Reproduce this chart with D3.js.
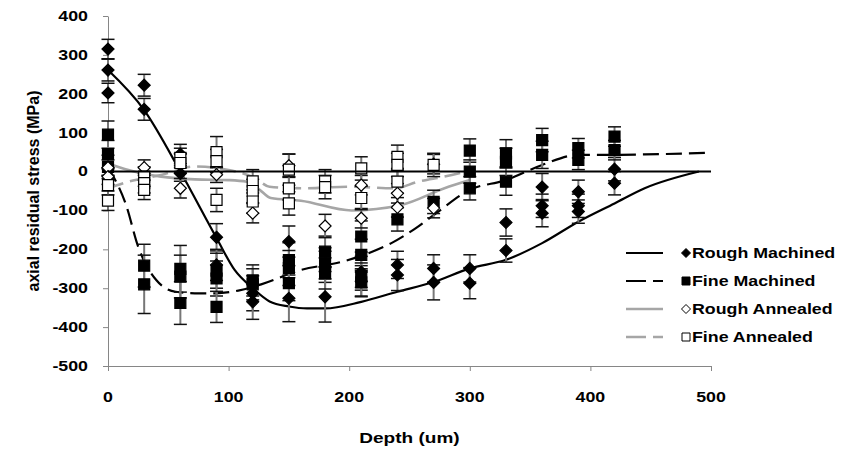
<!DOCTYPE html>
<html>
<head>
<meta charset="utf-8">
<script src="https://cdn.jsdelivr.net/npm/d3@7"></script>
<style>
  body { margin: 0; background: #fff; }
  text { font-family: "Liberation Sans", Arial, sans-serif; font-weight: bold; fill: #000; }
</style>
</head>
<body>
<div id="viz"></div>
<script>
const width = 843;
const height = 452;
const margin = { top: 16, right: 132, bottom: 86, left: 108 };
const stretch = 1.27; // text in the picture is a bit wide

// [depth um, stress MPa, error MPa]
const roughMachined = [
    [0, 315, 25], [0, 261, 28], [0, 202, 25],
    [30, 222, 28], [30, 160, 28],
    [60, 45, 25], [60, -5, 20],
    [90, -169, 35], [90, -240, 40],
    [120, -313, 45], [120, -335, 45],
    [150, -180, 40], [150, -326, 60],
    [180, -245, 40], [180, -322, 65],
    [210, -258, 40], [210, -282, 40],
    [240, -240, 35], [240, -266, 40],
    [270, -249, 35], [270, -285, 45],
    [300, -249, 35], [300, -287, 40],
    [330, -131, 35], [330, -203, 30],
    [360, -40, 35], [360, -88, 30], [360, -107, 35],
    [390, -52, 30], [390, -88, 30], [390, -103, 30],
    [420, 6, 30], [420, -30, 30]
];
const fineMachined = [
    [0, 95, 35], [0, 45, 35], [0, 12, 30],
    [30, -242, 55], [30, -290, 75],
    [60, -250, 60], [60, -270, 55], [60, -338, 55],
    [90, -255, 45], [90, -275, 45], [90, -348, 40],
    [120, -280, 40], [120, -290, 40],
    [150, -228, 45], [150, -248, 45], [150, -287, 45],
    [180, -206, 40], [180, -236, 40], [180, -262, 40],
    [210, -167, 40], [210, -214, 40], [210, -270, 35], [210, -285, 35],
    [240, -123, 30],
    [270, -78, 30],
    [300, 54, 30], [300, 0, 30], [300, -43, 30],
    [330, 47, 35], [330, 25, 35], [330, -26, 35],
    [360, 81, 30], [360, 43, 35],
    [390, 60, 25], [390, 30, 25],
    [420, 90, 25], [420, 55, 25]
];
const roughAnnealed = [
    [0, 10, 20], [0, -13, 20],
    [30, 10, 20],
    [60, -43, 25],
    [90, -8, 20],
    [120, -107, 25],
    [150, 15, 30],
    [180, -140, 30],
    [210, -35, 25], [210, -120, 25],
    [240, -56, 25], [240, -92, 25],
    [270, 19, 25], [270, -94, 25]
];
const fineAnnealed = [
    [0, -35, 25], [0, -75, 25],
    [30, -13, 25], [30, -30, 25], [30, -47, 25],
    [60, 35, 25], [60, 22, 25],
    [90, 50, 40], [90, 27, 30], [90, -73, 30],
    [120, -25, 30], [120, -50, 30], [120, -77, 30],
    [150, 5, 40], [150, -43, 30], [150, -82, 30],
    [180, -25, 30], [180, -40, 30],
    [210, 8, 30], [210, -68, 30],
    [240, 38, 30], [240, 17, 30], [240, -26, 30],
    [270, 17, 30]
];

// fitted curves
const roughMachinedFit = [[0, 261], [30, 158], [60, 0], [90, -171], [105, -253], [120, -300], [134, -334],
    [150, -347], [165, -352], [180, -352], [210, -335], [240, -309], [270, -284], [300, -249],
    [330, -227], [360, -184], [390, -129], [420, -82], [445, -43], [490, 0]];
const fineMachinedFit = [[0, 10], [15, -86], [25, -193], [40, -279], [56, -309], [72, -313], [89, -313],
    [108, -306], [127, -290], [160, -253], [194, -232], [216, -210], [235, -184], [255, -146],
    [270, -112], [300, -47], [330, -22], [360, 17], [390, 43], [420, 43], [445, 44], [495, 48]];
const roughAnnealedFit = [[0, 21], [17, 4], [44, -13], [72, -20], [100, -22], [115, -26], [125, -45],
    [135, -68], [160, -75], [202, -100], [243, -86], [279, -43], [300, -22]];
const fineAnnealedFit = [[0, -43], [17, -26], [44, -9], [72, 13], [100, 4], [122, -17], [134, -39],
    [160, -43], [202, -39], [238, -43], [257, -26], [279, -13], [300, 2]];

const xTicks = [0, 100, 200, 300, 400, 500];
const yTicks = [400, 300, 200, 100, 0, -100, -200, -300, -400, -500];
const seriesNames = ["Rough Machined", "Fine Machined", "Rough Annealed", "Fine Annealed"];

const series = [
    { name: seriesNames[0], pts: roughMachined, fit: roughMachinedFit, color: "#000", dash: null, shape: "diamond", fill: "#000" },
    { name: seriesNames[1], pts: fineMachined, fit: fineMachinedFit, color: "#000", dash: "16,7", shape: "square", fill: "#000" },
    { name: seriesNames[2], pts: roughAnnealed, fit: roughAnnealedFit, color: "#a6a6a6", dash: null, shape: "diamond", fill: "#fff" },
    { name: seriesNames[3], pts: fineAnnealed, fit: fineAnnealedFit, color: "#a6a6a6", dash: "16,7", shape: "square", fill: "#fff" }
];

const xScale = d3.scaleLinear().domain([0, 500]).range([margin.left, width - margin.right]);
const yScale = d3.scaleLinear().domain([-500, 400]).range([height - margin.bottom, margin.top]);

const svg = d3.select("#viz").append("svg")
    .attr("width", width)
    .attr("height", height)
    .attr("viewBox", [0, 0, width, height]);

function markerPath(shape, r) {
    if (shape === "diamond") return `M0,${-r}L${r},0L0,${r}L${-r},0Z`;
    return `M${-r},${-r}H${r}V${r}H${-r}Z`;
}

// axes
const yAxis = svg.append("g")
    .attr("transform", `translate(${margin.left},0)`)
    .call(d3.axisLeft(yScale).tickValues(yTicks).tickSize(5).tickSizeOuter(0).tickFormat(""));
yAxis.selectAll("path, line").attr("stroke", "#868686");

const xAxis = svg.append("g")
    .attr("transform", `translate(0,${height - margin.bottom})`)
    .call(d3.axisBottom(xScale).tickValues(xTicks).tickSize(5).tickSizeOuter(0).tickFormat(""));
xAxis.selectAll("path, line").attr("stroke", "#868686");

svg.append("g").selectAll("text").data(yTicks).join("text")
    .attr("transform", d => `translate(88,${yScale(d)}) scale(${stretch},1)`)
    .attr("text-anchor", "end")
    .attr("dy", "0.35em")
    .style("font-size", "14px")
    .text(d => d);

svg.append("g").selectAll("text").data(xTicks).join("text")
    .attr("transform", d => `translate(${xScale(d)},397) scale(${stretch},1)`)
    .attr("text-anchor", "middle")
    .attr("dy", "0.35em")
    .style("font-size", "14px")
    .text(d => d);

svg.append("text")
    .attr("transform", `translate(${(xScale(0) + xScale(500)) / 2},438) scale(${stretch},1)`)
    .attr("text-anchor", "middle")
    .attr("dy", "0.35em")
    .style("font-size", "15px")
    .text("Depth (um)");

svg.append("text")
    .attr("transform", `translate(33,${yScale(-50)}) rotate(-90)`)
    .attr("text-anchor", "middle")
    .attr("dy", "0.35em")
    .style("font-size", "16px")
    .text("axial residual stress (MPa)");

// fit lines
const line = d3.line()
    .x(d => xScale(d[0]))
    .y(d => yScale(d[1]))
    .curve(d3.curveMonotoneX);

svg.append("g").selectAll("path").data(series).join("path")
    .attr("d", s => line(s.fit))
    .attr("fill", "none")
    .attr("stroke", s => s.color)
    .attr("stroke-width", s => s.color === "#000" ? 2.2 : 2.6)
    .attr("stroke-dasharray", s => s.dash);

// error bars and markers
series.forEach(s => {
    const g = svg.append("g");
    const bars = g.selectAll("g.err").data(s.pts).join("g").attr("class", "err");
    bars.append("line")
        .attr("x1", d => xScale(d[0])).attr("x2", d => xScale(d[0]))
        .attr("y1", d => yScale(d[1] - d[2])).attr("y2", d => yScale(d[1] + d[2]))
        .attr("stroke", "#777").attr("stroke-width", 2);
    [-1, 1].forEach(sign => {
        bars.append("line")
            .attr("x1", d => xScale(d[0]) - 6.5).attr("x2", d => xScale(d[0]) + 6.5)
            .attr("y1", d => yScale(d[1] + sign * d[2])).attr("y2", d => yScale(d[1] + sign * d[2]))
            .attr("stroke", "#111").attr("stroke-width", 1.5);
    });
});

series.forEach(s => {
    svg.append("g").selectAll("path").data(s.pts).join("path")
        .attr("transform", d => `translate(${xScale(d[0])},${yScale(d[1])})`)
        .attr("d", markerPath(s.shape, s.shape === "diamond" ? 6 : 5.5))
        .attr("fill", s.fill)
        .attr("stroke", "#000")
        .attr("stroke-width", 1.2);
});

// zero line
svg.append("line")
    .attr("x1", xScale(0)).attr("x2", xScale(500))
    .attr("y1", yScale(0)).attr("y2", yScale(0))
    .attr("stroke", "#000").attr("stroke-width", 2);

// legend
const legend = svg.append("g");
const legY = [253, 281, 309, 337];
series.forEach((s, i) => {
    const row = legend.append("g").attr("transform", `translate(0,${legY[i]})`);
    row.append("line")
        .attr("x1", 626).attr("x2", 663)
        .attr("stroke", s.color)
        .attr("stroke-width", s.color === "#000" ? 2.2 : 2.6)
        .attr("stroke-dasharray", s.dash ? "20,7" : null);
    row.append("path")
        .attr("transform", "translate(686,0)")
        .attr("d", markerPath(s.shape, s.shape === "diamond" ? 4.5 : 4))
        .attr("fill", s.fill)
        .attr("stroke", "#000")
        .attr("stroke-width", 1);
    row.append("text")
        .attr("transform", `translate(692,0) scale(${stretch},1)`)
        .attr("dy", "0.35em")
        .style("font-size", "14px")
        .text(s.name);
});
</script>
</body>
</html>
